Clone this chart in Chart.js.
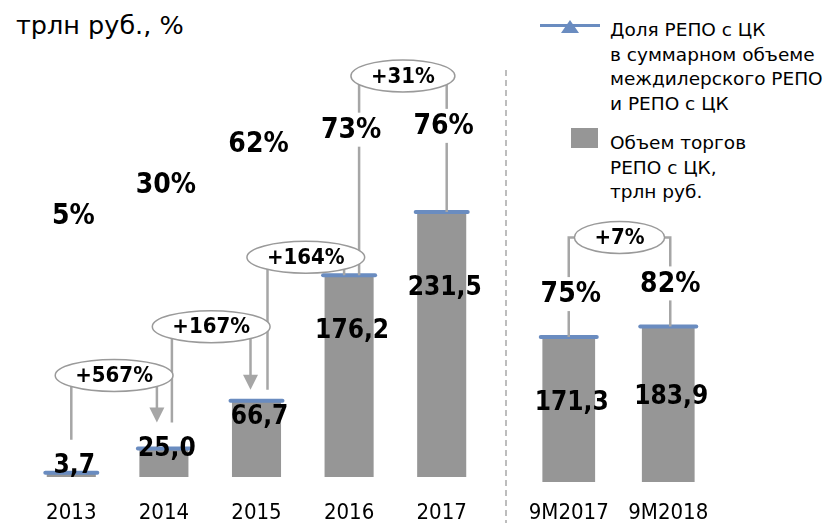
<!DOCTYPE html>
<html>
<head>
<meta charset="utf-8">
<script src="https://cdn.jsdelivr.net/npm/chart.js@4.4.1/dist/chart.umd.min.js"></script>
<style>
  body { margin: 0; width: 828px; height: 523px; position: relative; overflow: hidden; background: #fff;
         font-family: "DejaVu Sans", sans-serif; color: #000; }
  canvas { position: absolute; left: 0; top: 0; }
  .title { position: absolute; left: 16px; top: 10px; font-size: 25.5px; line-height: 30px; }
  .divider { position: absolute; left: 505px; top: 70px; bottom: 0; width: 2px;
             background: repeating-linear-gradient(to bottom, #bdbdbd 0 6px, transparent 6px 10px); }
  .lg-line { position: absolute; left: 540px; top: 24px; width: 60px; height: 3px; background: #6a8cc0; }
  .lg-tri { position: absolute; left: 561px; top: 20px; width: 0; height: 0;
            border-left: 9px solid transparent; border-right: 9px solid transparent; border-bottom: 13px solid #6a8cc0; }
  .lg-box { position: absolute; left: 571px; top: 128px; width: 27px; height: 20px; background: #969696; }
  .lg-text { position: absolute; left: 610px; font-size: 18.5px; line-height: 24.5px; white-space: nowrap; }
</style>
</head>
<body>
<div class="title">трлн руб., %</div>
<div class="divider"></div>
<div class="lg-line"></div><div class="lg-tri"></div>
<div class="lg-text" style="top:18px">Доля РЕПО с ЦК<br>в суммарном объеме<br>междилерского РЕПО<br>и РЕПО с ЦК</div>
<div class="lg-box"></div>
<div class="lg-text" style="top:131px">Объем торгов<br>РЕПО с ЦК,<br>трлн руб.</div>
<canvas id="years" width="828" height="523"></canvas>
<canvas id="months" width="828" height="523"></canvas>
<script>
// data
const years = ['2013', '2014', '2015', '2016', '2017'];
const yearVolume = [3.7, 25.0, 66.7, 176.2, 231.5];
const yearShare = [5, 30, 62, 73, 76];
const yearGrowth = ['+567%', '+167%', '+164%', '+31%'];

const periods = ['9M2017', '9M2018'];
const periodVolume = [171.3, 183.9];
const periodShare = [75, 82];
const periodGrowth = ['+7%'];

const FONT = '"DejaVu Sans Condensed", "DejaVu Sans", sans-serif';
const BAR = '#969696', CAP = '#6a8cc0', LINK = '#a6a6a6';
Chart.defaults.font.family = FONT;
Chart.defaults.color = '#000';

const fmt = v => v.toFixed(1).replace('.', ',');

// labels, growth ovals and connectors
const marks = {
  id: 'marks',
  // rounded ends on the blue caps
  beforeDatasetDraw(chart, args) {
    if (args.index === 1) chart.ctx.lineCap = 'round';
  },
  afterDatasetDraw(chart, args) {
    chart.ctx.lineCap = 'butt';
  },
  afterDatasetsDraw(chart, args, o) {
    const ctx = chart.ctx;
    const bars = chart.getDatasetMeta(0).data;
    const base = chart.scales.y.getPixelForValue(0);
    const ends = bars.map((b, i) => b.y - o.legGap[i]);
    ctx.save();
    ctx.strokeStyle = LINK;
    ctx.fillStyle = LINK;
    ctx.lineWidth = 2.5;

    const ovals = [];
    o.growth.forEach((g, i) => {
      const L = bars[i], R = bars[i + 1], s = o.layout[i];
      const xl = L.x + s.dxL, xr = R.x + s.dxR;
      const ey = Math.min(L.y, R.y) - s.lift;
      const tip = ends[i + 1];
      ctx.beginPath();
      ctx.moveTo(xl, ends[i]);
      ctx.lineTo(xl, ey);
      ctx.lineTo(xr, ey);
      ctx.lineTo(xr, s.arrow ? tip - 12 : tip);
      ctx.stroke();
      if (s.arrow) {
        ctx.beginPath();
        ctx.moveTo(xr - 7.5, tip - 15);
        ctx.lineTo(xr + 7.5, tip - 15);
        ctx.lineTo(xr, tip);
        ctx.closePath();
        ctx.fill();
      }
      ovals.push({ text: g, x: (xl + xr) / 2, y: ey });
    });

    ctx.font = 'bold 22px ' + FONT;
    ctx.textAlign = 'center';
    ctx.textBaseline = 'middle';
    ovals.forEach(v => {
      const rx = ctx.measureText(v.text).width / 2 + 20;
      ctx.beginPath();
      ctx.ellipse(v.x, v.y, rx, 16, 0, 0, Math.PI * 2);
      ctx.fillStyle = '#fff';
      ctx.fill();
      ctx.lineWidth = 1.5;
      ctx.strokeStyle = '#9a9a9a';
      ctx.stroke();
      ctx.fillStyle = '#000';
      ctx.fillText(v.text, v.x, v.y + 1);
    });

    // share labels
    ctx.font = 'bold 28px ' + FONT;
    const sharePts = o.shareOnAxis ? chart.getDatasetMeta(2).data : null;
    o.share.forEach((p, i) => {
      const t = p + '%';
      const x = bars[i].x + 2;
      const y = sharePts ? sharePts[i].y : bars[i].y - o.shareAbove;
      const w = ctx.measureText(t).width;
      ctx.fillStyle = '#fff';
      ctx.fillRect(x - w / 2 - 4, y - 17, w + 8, 34);
      ctx.fillStyle = '#000';
      ctx.fillText(t, x, y + 1);
    });

    // volume labels
    ctx.font = 'bold 26px ' + FONT;
    o.volume.forEach((v, i) => {
      const b = bars[i];
      const h = base - b.y;
      const y = Math.min(b.y + h * o.valueK + o.valueB, base - 12);
      ctx.fillText(fmt(v), b.x + 3, y + 1);
    });
    ctx.restore();
  }
};

function makeChart(id, labels, volume, share, growth, opts) {
  const datasets = [
    { type: 'bar', data: volume, backgroundColor: BAR, barPercentage: 0.53, categoryPercentage: 1, order: 2 },
    { type: 'line', data: volume, showLine: false, pointStyle: 'line', pointRadius: opts.capR, pointHoverRadius: opts.capR,
      pointBorderWidth: 4, pointHoverBorderWidth: 4, borderColor: CAP, pointBorderColor: CAP, order: 1 },
  ];
  if (opts.shareOnAxis) {
    datasets.push({ type: 'line', data: share, yAxisID: 'y1', showLine: false, pointRadius: 0, order: 0 });
  }
  const scales = {
    x: { grid: { display: false }, border: { display: false },
         ticks: { font: { size: 22 }, padding: opts.tickPad, color: '#000' },
         afterFit: s => { s.height = opts.axisH; } },
    y: { display: false, min: 0, max: opts.yMax },
  };
  if (opts.shareOnAxis) scales.y1 = { display: false, min: -200, max: 160 };
  return new Chart(document.getElementById(id), {
    type: 'bar',
    data: { labels, datasets },
    options: {
      responsive: false,
      animation: false,
      events: [],
      layout: { padding: opts.pad, autoPadding: false },
      scales,
      plugins: {
        legend: { display: false },
        tooltip: { enabled: false },
        marks: { volume, share, growth, ...opts.marks, shareOnAxis: opts.shareOnAxis },
      },
    },
    plugins: [marks],
  });
}

makeChart('years', years, yearVolume, yearShare, yearGrowth, {
  capR: 26, yMax: 400, tickPad: 15, axisH: 46, shareOnAxis: true,
  pad: { left: 25, right: 340, top: 19, bottom: 0 },
  marks: {
    valueK: 0.317, valueB: -9,
    legGap: [33, 26, 11, 0, 0],
    layout: [
      { lift: 73, dxL: 0, dxR: -7, arrow: true },
      { lift: 74, dxL: 8, dxR: -6, arrow: true },
      { lift: 18, dxL: 11, dxR: -5 },
      { lift: 136, dxL: 10, dxR: 5 },
    ],
  },
});

makeChart('months', periods, periodVolume, periodShare, periodGrowth, {
  capR: 28, yMax: 500, tickPad: 10, axisH: 41, shareOnAxis: false,
  pad: { left: 519, right: 110, top: 59, bottom: 0 },
  marks: {
    valueK: 0.45, valueB: 0, shareAbove: 43,
    legGap: [0, 0],
    layout: [{ lift: 89, dxL: 0, dxR: 2 }],
  },
});
</script>
</body>
</html>
